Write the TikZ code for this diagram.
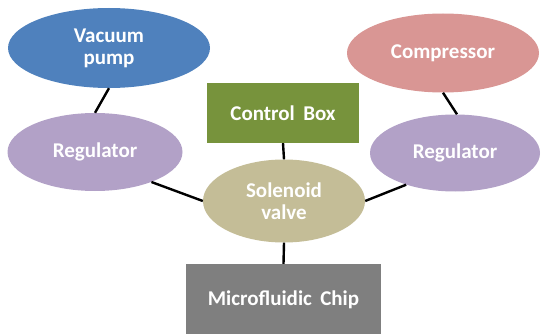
\documentclass[tikz,border=0pt]{standalone}
\usepackage{fontspec}
\setmainfont{Carlito}
\usetikzlibrary{shapes.geometric}
\definecolor{pumpblue}{HTML}{4F81BD}
\definecolor{regpurple}{HTML}{B2A1C7}
\definecolor{comprose}{HTML}{D99694}
\definecolor{boxgreen}{HTML}{77933C}
\definecolor{valvetan}{HTML}{C4BD97}
\definecolor{chipgray}{HTML}{7F7F7F}
\tikzset{
  lbl/.style={text=white, font=\fontsize{21}{22}\selectfont\bfseries, align=center, inner sep=0pt},
  oval/.style={lbl, ellipse, draw=none},
  panel/.style={lbl, rectangle, draw=none},
  link/.style={draw=black, line width=2.4pt}
}
\begin{document}
\begin{tikzpicture}[x=1pt, y=-1pt]
  \useasboundingbox (0,0) rectangle (541,334);
  % components
  \node[oval, fill=pumpblue, minimum width=202pt, minimum height=80pt] (vac) at (109,48) {Vacuum\\pump};
  \node[oval, fill=regpurple, minimum width=175pt, minimum height=78pt] (regL) at (95,152) {Regulator};
  \node[oval, fill=comprose, minimum width=192pt, minimum height=79pt] (comp) at (443,53) {Compressor};
  \node[oval, fill=regpurple, minimum width=170pt, minimum height=77pt] (regR) at (455,153) {Regulator};
  \node[panel, fill=boxgreen, minimum width=152pt, minimum height=60pt] (ctrl) at (283,113) {Control\hspace{0.4em}Box};
  \node[oval, fill=valvetan, minimum width=162pt, minimum height=83pt] (sol) at (284,201) {Solenoid\\valve};
  \node[panel, fill=chipgray, minimum width=195pt, minimum height=72pt] (chip) at (283.5,300) {Microfluidic\hspace{0.4em}Chip};
  % connections
  \draw[link] (vac.south) -- (regL.north);
  \draw[link] (comp.south) -- ([xshift=2pt]regR.north);
  \draw[link] (ctrl.south) -- (sol.north);
  \draw[link] (sol.south) -- (chip.north);
  \draw[link] (regL.-28) -- (sol.west);
  \draw[link] (regR.-147) -- (sol.east);
\end{tikzpicture}
\end{document}
